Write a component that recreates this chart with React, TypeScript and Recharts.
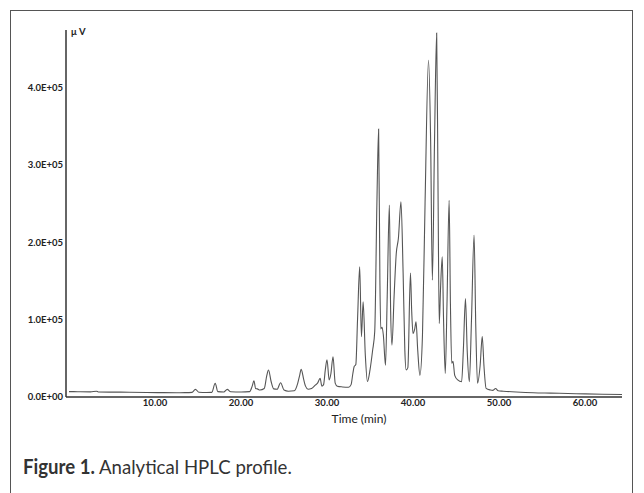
import { Line, LineChart, XAxis, YAxis } from 'recharts';

// retention time (min) / detector signal (µV)
const earlyTimes = [0, 1, 2.5, 3.2, 3.4, 5, 7, 9, 11, 12.5, 13.5, 14.3, 14.7, 15.1, 16, 16.6, 17.0, 17.3, 18.0, 18.4, 18.8, 20, 21.0, 21.3, 21.5, 21.7, 21.9, 22.2, 22.7, 23.0, 23.2, 23.5, 23.8, 24.2, 24.6, 25.0, 25.5, 26.2, 26.6, 26.8, 27.0, 27.3, 27.5, 27.8, 28.2, 28.6, 28.9, 29.2, 29.4, 29.6, 29.8, 30.0, 30.25, 30.45, 30.7, 30.95, 31.2, 31.8, 32.5];
const earlySignal = [7000, 6800, 6600, 7500, 6500, 6300, 6200, 5900, 5600, 5500, 5600, 6000, 9900, 6200, 5800, 6000, 17700, 7000, 6500, 9900, 6800, 6500, 7000, 14000, 21000, 11000, 10500, 9000, 11000, 28000, 34800, 20000, 10500, 10000, 18500, 9000, 7500, 8000, 18000, 27000, 35700, 22000, 14000, 10000, 11000, 15000, 18000, 24000, 14000, 16000, 35000, 48000, 22000, 30000, 52000, 18000, 14000, 13000, 12500];

const clusterTimes = [32.8, 33.0, 33.15, 33.35, 33.55, 33.8, 34.0, 34.2, 34.45, 34.7, 35.0, 35.3, 35.55, 35.8, 36.0, 36.15, 36.25, 36.4, 36.55, 36.8, 37.0, 37.25, 37.4, 37.55, 37.8, 38.05, 38.3, 38.6, 38.85, 39.05, 39.2, 39.4, 39.7, 39.85, 40.0, 40.2, 40.35, 40.55, 40.8, 41.1, 41.4, 41.8, 42.05, 42.25, 42.5, 42.75, 42.9, 43.05, 43.2, 43.4, 43.55, 43.75, 43.95, 44.2, 44.35, 44.5, 44.65, 44.85, 45.2, 45.65, 45.85, 46.1, 46.3, 46.55, 46.8, 47.1, 47.3, 47.5, 47.8, 48.05, 48.25, 48.5];
const clusterSignal = [16000, 30000, 39000, 42000, 100000, 168000, 78000, 123000, 55000, 20000, 35000, 60000, 85000, 250000, 346000, 150000, 88000, 90000, 80000, 41000, 130000, 248000, 110000, 67000, 130000, 185000, 205000, 252000, 160000, 60000, 35000, 38000, 160000, 110000, 82000, 88000, 97000, 60000, 28000, 80000, 250000, 435000, 330000, 151000, 330000, 470000, 280000, 95000, 140000, 181000, 100000, 30500, 120000, 254000, 120000, 43500, 46000, 28000, 22000, 19700, 60000, 127000, 60000, 19700, 100000, 209000, 90000, 17700, 40000, 78000, 40000, 11200];

const tailTimes = [49.0, 49.3, 49.6, 49.9, 50.5, 52, 54, 56, 58, 60, 62, 64.3];
const tailSignal = [9000, 8500, 11000, 8000, 7500, 6500, 5500, 5000, 4500, 4000, 3500, 3200];

const xTicks = [10, 20, 30, 40, 50, 60];
const xTickLabels = ['10.00', '20.00', '30.00', '40.00', '50.00', '60.00'];
const yTicks = [0, 100000, 200000, 300000, 400000];
const yTickLabels = ['0.0E+00', '1.0E+05', '2.0E+05', '3.0E+05', '4.0E+05'];

const times = [...earlyTimes, ...clusterTimes, ...tailTimes];
const signal = [...earlySignal, ...clusterSignal, ...tailSignal];
const data = times.map((t, i) => ({ t, v: signal[i] }));

const tickStyle = { fill: '#222', fontSize: 9.5, fontWeight: 700, fontFamily: 'Lato' };

export default function App() {
    return (
        <div style={{ position: 'fixed', left: 0, top: 0, width: 644, height: 493, overflow: 'hidden', background: '#fff' }}>
            <div
                style={{
                    position: 'absolute',
                    left: 10,
                    top: 10,
                    width: 621,
                    height: 520,
                    borderLeft: '1.5px solid #555',
                    borderTop: '1.5px solid #555',
                    borderRight: '1.5px solid #555',
                }}
            />
            <LineChart width={644} height={493} data={data} margin={{ top: 30, right: 22, bottom: 66, left: 8 }} style={{ position: 'absolute', left: 0, top: 0 }}>
                <XAxis
                    dataKey="t"
                    type="number"
                    domain={[-0.35, 64.3]}
                    allowDataOverflow
                    ticks={xTicks}
                    tickFormatter={(v: number) => xTickLabels[xTicks.indexOf(v)]}
                    tick={tickStyle}
                    tickLine={false}
                    tickSize={0}
                    tickMargin={2}
                    height={30}
                    axisLine={{ stroke: '#333', strokeWidth: 1.5 }}
                />
                <YAxis
                    type="number"
                    domain={[0, 474000]}
                    allowDataOverflow
                    ticks={yTicks}
                    tickFormatter={(v: number) => yTickLabels[yTicks.indexOf(v)]}
                    tick={tickStyle}
                    tickLine={false}
                    tickSize={0}
                    tickMargin={3}
                    width={58}
                    axisLine={{ stroke: '#333', strokeWidth: 1.5 }}
                />
                <Line type="monotone" dataKey="v" stroke="#555" strokeWidth={1.1} dot={false} isAnimationActive={false} />
            </LineChart>
            <span style={{ position: 'absolute', left: 71, top: 26, fontFamily: 'Lato', fontWeight: 700, fontSize: 9.5, color: '#222' }}>μ V</span>
            <span style={{ position: 'absolute', left: 359, top: 411, transform: 'translateX(-50%)', fontFamily: 'Lato', fontSize: 12, color: '#222', whiteSpace: 'nowrap' }}>
                Time (min)
            </span>
            <div
                style={{
                    position: 'absolute',
                    left: 23,
                    top: 454,
                    fontFamily: 'Lato',
                    fontSize: 20,
                    color: '#333',
                    whiteSpace: 'nowrap',
                    transform: 'scaleX(0.93)',
                    transformOrigin: 'left center',
                }}
            >
                <b>Figure 1.</b> Analytical HPLC profile.
            </div>
        </div>
    );
}
